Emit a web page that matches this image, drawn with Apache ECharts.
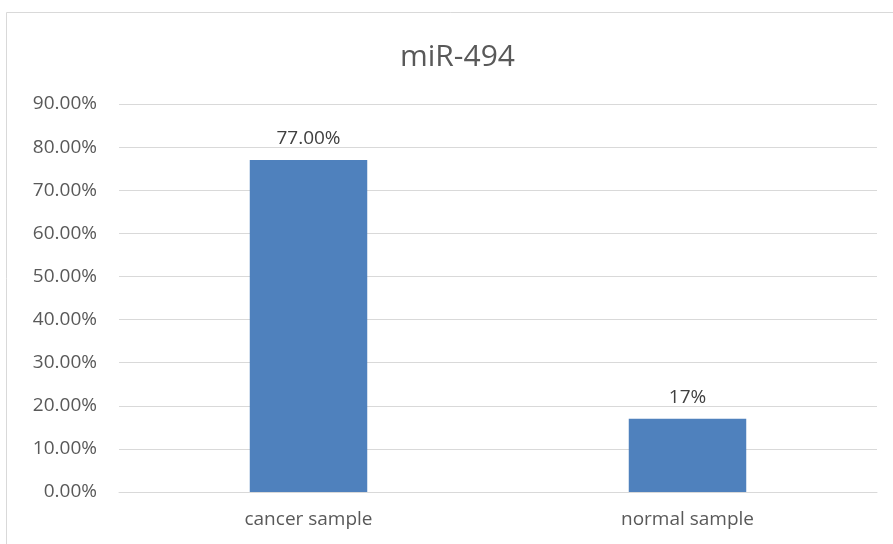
<!DOCTYPE html>
<html><head><meta charset="utf-8">
<script src="https://cdn.jsdelivr.net/npm/echarts@6/dist/echarts.min.js"></script>
<style>html,body{margin:0;padding:0;background:#fff}#c{width:893px;height:544px}</style>
</head><body><div id="c"></div>
<script>
const title = 'miR-494';
const categories = ['cancer sample', 'normal sample'];
const values = [77, 17];
const valueLabels = ['77.00%', '17%'];
const yMin = 0, yMax = 90, yStep = 10;

const chart = echarts.init(document.getElementById('c'), null, {renderer: 'canvas'});
const font = '"Open Sans", "Noto Sans", sans-serif';
chart.setOption({
  animation: false,
  backgroundColor: '#fff',
  graphic: [{type: 'rect', shape: {x: 6.5, y: 12.5, width: 1000, height: 1000}, style: {fill: 'none', stroke: '#d9d9d9', lineWidth: 1}, silent: true, z: -10}],
  title: {text: title, left: 395, top: 37, textStyle: {fontFamily: font, fontSize: 30, fontWeight: 'normal', color: '#595959'}},
  grid: {left: 119, right: 16, top: 104, bottom: 52},
  xAxis: {type: 'category', data: categories,
    axisLine: {lineStyle: {color: '#d9d9d9'}}, axisTick: {show: false},
    axisLabel: {fontFamily: font, fontSize: 19, color: '#595959', margin: 18}},
  yAxis: {type: 'value', min: yMin, max: yMax, interval: yStep,
    axisLine: {show: false}, axisTick: {show: false},
    splitLine: {lineStyle: {color: '#d9d9d9'}},
    axisLabel: {fontFamily: font, fontSize: 19, color: '#595959', margin: 22, formatter: v => v.toFixed(2) + '%'}},
  series: [{type: 'bar', data: values, barWidth: '31%', itemStyle: {color: '#4f81bd'},
    label: {show: true, position: 'top', distance: 12, fontFamily: font, fontSize: 19, color: '#404040',
      formatter: p => valueLabels[p.dataIndex]}}]
});
</script></body></html>
